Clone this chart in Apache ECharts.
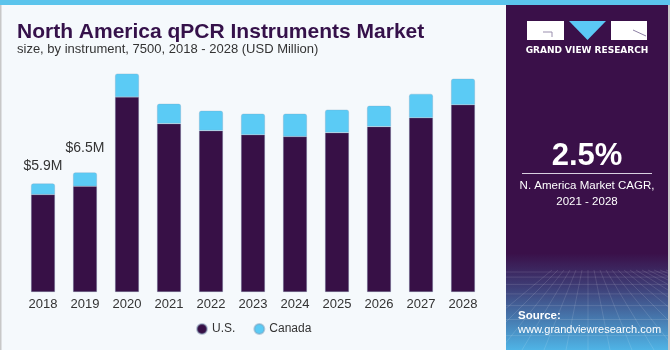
<!DOCTYPE html>
<html>
<head>
<meta charset="utf-8">
<title>North America qPCR Instruments Market</title>
<script src="https://cdn.jsdelivr.net/npm/echarts@6/dist/echarts.min.js"></script>
<style>
html, body { margin: 0; padding: 0; background: #f5f9fc; }
#chart { width: 670px; height: 350px; }
</style>
</head>
<body>
<div id="chart"></div>
<script>
var years = ['2018', '2019', '2020', '2021', '2022', '2023', '2024', '2025', '2026', '2027', '2028'];
var us = [5.3, 5.75, 10.6, 9.15, 8.77, 8.55, 8.45, 8.66, 8.99, 9.47, 10.18];
var canada = [0.6, 0.75, 1.27, 1.08, 1.08, 1.14, 1.24, 1.25, 1.13, 1.3, 1.41];
var totalLabels = ['$5.9M', '$6.5M', '', '', '', '', '', '', '', '', ''];
var labelGap = [10, 17, 0, 0, 0, 0, 0, 0, 0, 0, 0];

var purple = '#371046';
var blue = '#5bcbf5';

var canadaData = canada.map(function (v, i) {
    if (!totalLabels[i]) return v;
    return { value: v, label: { show: true, distance: labelGap[i], formatter: totalLabels[i] } };
});

// grid lines in the lower part of the side panel
var panelLines = [];
for (var k = 0; k < 9; k++) {
    var yy = 272 + k * k * 1.1 + k * 4;
    panelLines.push({ type: 'line', shape: { x1: 506, y1: yy, x2: 670, y2: yy },
        style: { stroke: 'rgba(255,255,255,0.12)', lineWidth: 1 }, silent: true });
}
for (var j = -6; j < 14; j++) {
    panelLines.push({ type: 'line', shape: { x1: 588 + j * 6, y1: 270, x2: 588 + j * 22, y2: 350 },
        style: { stroke: 'rgba(255,255,255,0.12)', lineWidth: 1 }, silent: true });
}

var chart = echarts.init(document.getElementById('chart'));
chart.setOption({
    backgroundColor: '#f5f9fc',
    textStyle: { fontFamily: 'Liberation Sans, Arial, sans-serif' },
    title: {
        text: 'North America qPCR Instruments Market',
        subtext: 'size, by instrument, 7500, 2018 - 2028 (USD Million)',
        left: 12,
        top: 17,
        itemGap: 0,
        textStyle: { fontSize: 21, fontWeight: 'bold', color: '#35114a', fontFamily: 'Liberation Sans, Arial, sans-serif' },
        subtextStyle: { fontSize: 13, color: '#333333', fontFamily: 'Liberation Sans, Arial, sans-serif' }
    },
    legend: {
        data: ['U.S.', 'Canada'],
        left: 191,
        top: 318,
        icon: 'circle',
        itemWidth: 10,
        itemHeight: 10,
        itemGap: 18,
        textStyle: { fontSize: 12, color: '#333333' }
    },
    grid: { left: 22, right: 186, top: 62, bottom: 58 },
    xAxis: {
        type: 'category',
        data: years,
        axisLine: { show: false },
        axisTick: { show: false },
        axisLabel: { fontSize: 13, color: '#333333', margin: 6 }
    },
    yAxis: {
        type: 'value',
        min: 0,
        max: 12.5,
        show: false,
        splitLine: { show: false }
    },
    series: [
        {
            name: 'U.S.',
            type: 'bar',
            stack: 'total',
            barWidth: '57%',
            data: us,
            itemStyle: { color: purple, borderColor: 'rgba(120,140,170,0.5)', borderWidth: 0.6 }
        },
        {
            name: 'Canada',
            type: 'bar',
            stack: 'total',
            data: canadaData,
            itemStyle: { color: blue, borderRadius: [2, 2, 0, 0], borderColor: 'rgba(120,160,190,0.5)', borderWidth: 0.6 },
            label: { show: false, position: 'top', fontSize: 14, color: '#333333' }
        }
    ],
    graphic: [
        { type: 'rect', shape: { x: 0, y: 0, width: 670, height: 5 }, style: { fill: '#5bc4ec' }, silent: true },
        { type: 'rect', shape: { x: 0, y: 5, width: 1.5, height: 345 }, style: { fill: '#c8c8c8' }, silent: true },
        {
            type: 'rect', shape: { x: 506, y: 5, width: 164, height: 345 }, silent: true,
            style: {
                fill: {
                    type: 'linear', x: 0, y: 0, x2: 0, y2: 1,
                    colorStops: [
                        { offset: 0, color: '#3a1049' },
                        { offset: 0.72, color: '#3a1049' },
                        { offset: 0.82, color: '#3e3f78' },
                        { offset: 1, color: '#4fb4e6' }
                    ]
                }
            }
        }
    ].concat(panelLines).concat([
        { type: 'rect', shape: { x: 668, y: 5, width: 2, height: 345 }, style: { fill: '#c8c8c8' }, silent: true },
        // logo
        { type: 'rect', shape: { x: 527, y: 21, width: 37, height: 19 }, style: { fill: '#ffffff' }, silent: true },
        { type: 'polyline', shape: { points: [[543, 32], [552, 32], [552, 37]] }, style: { stroke: '#9a8fae', lineWidth: 1, fill: null }, silent: true },
        { type: 'polygon', shape: { points: [[569, 21], [606, 21], [587.5, 40]] }, style: { fill: '#5bc8f5' }, silent: true },
        { type: 'rect', shape: { x: 611, y: 21, width: 36, height: 19 }, style: { fill: '#ffffff' }, silent: true },
        { type: 'line', shape: { x1: 633, y1: 30, x2: 646, y2: 36 }, style: { stroke: '#8d80a4', lineWidth: 1 }, silent: true },
        { type: 'text', x: 587, y: 51, silent: true,
          style: { text: 'GRAND VIEW RESEARCH', fill: '#ffffff', font: 'bold 9px "DejaVu Sans", sans-serif', align: 'center', verticalAlign: 'middle' } },
        // CAGR
        { type: 'text', x: 587, y: 156, silent: true,
          style: { text: '2.5%', fill: '#ffffff', font: 'bold 31px "Liberation Sans", Arial, sans-serif', align: 'center', verticalAlign: 'middle' } },
        { type: 'line', shape: { x1: 522, y1: 173.5, x2: 652, y2: 173.5 }, style: { stroke: '#d8d0e0', lineWidth: 1 }, silent: true },
        { type: 'text', x: 587, y: 186, silent: true,
          style: { text: 'N. America Market CAGR,', fill: '#ffffff', font: '11.5px "Liberation Sans", Arial, sans-serif', align: 'center', verticalAlign: 'middle' } },
        { type: 'text', x: 587, y: 202, silent: true,
          style: { text: '2021 - 2028', fill: '#ffffff', font: '11.5px "Liberation Sans", Arial, sans-serif', align: 'center', verticalAlign: 'middle' } },
        // source
        { type: 'text', x: 518, y: 316, silent: true,
          style: { text: 'Source:', fill: '#ffffff', font: 'bold 11.5px "Liberation Sans", Arial, sans-serif', align: 'left', verticalAlign: 'middle' } },
        { type: 'text', x: 518, y: 330, silent: true,
          style: { text: 'www.grandviewresearch.com', fill: '#ffffff', font: '11px "Liberation Sans", Arial, sans-serif', align: 'left', verticalAlign: 'middle' } }
    ])
});
</script>
</body>
</html>
